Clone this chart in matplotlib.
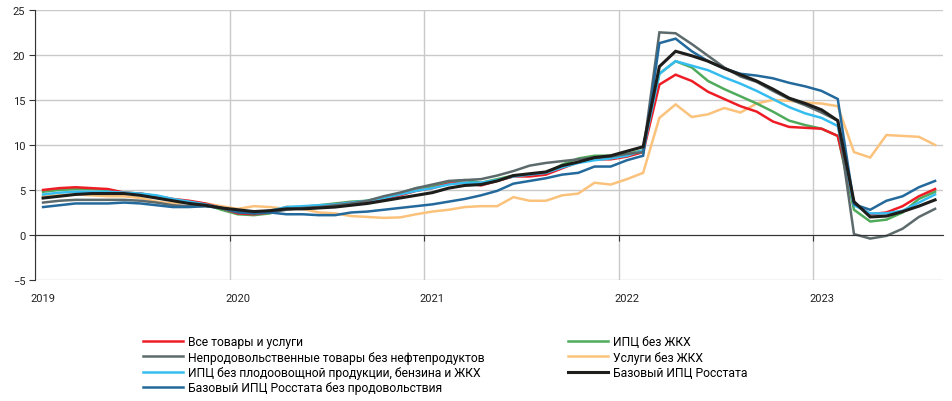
import numpy as np
import matplotlib
matplotlib.use("Agg")
import matplotlib.pyplot as plt

plt.rcParams["font.family"] = ["Roboto", "DejaVu Sans"]

# ---------------------- данные (г/г, %), янв 2019 - авг 2023 ----------------------
years = ["2019", "2020", "2021", "2022", "2023"]

all_goods = [5.0, 5.2, 5.3, 5.2, 5.1, 4.7, 4.6, 4.3, 4.0, 3.8, 3.5, 3.0,
             2.4, 2.3, 2.5, 3.1, 3.0, 3.2, 3.4, 3.6, 3.7, 4.0, 4.4, 4.9,
             5.2, 5.7, 5.8, 5.5, 6.0, 6.5, 6.5, 6.7, 7.4, 8.1, 8.4, 8.4,
             8.7, 9.2, 16.7, 17.8, 17.1, 15.9, 15.1, 14.3, 13.7, 12.6, 12.0, 11.9,
             11.8, 11.0, 3.5, 2.3, 2.5, 3.2, 4.3, 5.1]
cpi_ex_housing = [4.8, 5.0, 5.1, 5.1, 5.0, 4.7, 4.6, 4.3, 3.9, 3.7, 3.4, 2.8,
                  2.3, 2.2, 2.4, 3.1, 3.1, 3.3, 3.5, 3.7, 3.8, 4.2, 4.6, 5.2,
                  5.4, 5.9, 6.1, 5.8, 6.2, 6.6, 6.6, 6.9, 7.8, 8.5, 8.8, 8.8,
                  9.0, 9.4, 17.9, 19.3, 18.6, 17.1, 16.2, 15.4, 14.6, 13.7, 12.7, 12.2,
                  11.8, 11.0, 2.8, 1.5, 1.7, 2.5, 4.0, 4.8]
nonfood_ex_oil = [3.6, 3.8, 3.9, 3.9, 3.9, 3.9, 3.8, 3.6, 3.3, 3.2, 3.2, 3.0,
                  2.6, 2.4, 2.5, 2.8, 3.0, 3.1, 3.3, 3.5, 3.8, 4.3, 4.7, 5.2,
                  5.6, 6.0, 6.1, 6.2, 6.6, 7.1, 7.7, 8.0, 8.2, 8.4, 8.6, 8.7,
                  9.0, 9.2, 22.5, 22.4, 21.2, 19.9, 18.6, 17.6, 17.0, 16.0, 15.1, 14.4,
                  13.6, 12.7, 0.1, -0.4, -0.1, 0.7, 2.0, 2.9]
services_ex_housing = [4.3, 4.4, 4.5, 4.4, 4.3, 4.3, 4.1, 3.7, 3.5, 3.6, 3.5, 3.2,
                       2.9, 3.2, 3.1, 2.9, 2.9, 2.5, 2.4, 2.1, 2.0, 1.9, 1.95, 2.3,
                       2.6, 2.8, 3.1, 3.2, 3.2, 4.2, 3.8, 3.8, 4.4, 4.6, 5.8, 5.6,
                       6.2, 6.9, 13.0, 14.5, 13.1, 13.4, 14.1, 13.6, 14.6, 15.0, 14.9, 14.7,
                       14.6, 14.3, 9.2, 8.6, 11.1, 11.0, 10.9, 10.0]
cpi_ex_veg_fuel = [4.5, 4.7, 4.8, 4.8, 4.8, 4.7, 4.6, 4.4, 4.0, 3.7, 3.4, 3.0,
                   2.7, 2.5, 2.7, 3.1, 3.2, 3.3, 3.4, 3.6, 3.8, 4.1, 4.5, 4.9,
                   5.2, 5.6, 5.8, 5.8, 6.1, 6.5, 6.7, 6.9, 7.5, 8.0, 8.3, 8.5,
                   8.8, 9.4, 17.9, 19.3, 18.8, 18.3, 17.5, 16.8, 16.0, 15.1, 14.2, 13.5,
                   13.0, 12.1, 3.3, 2.4, 2.4, 2.7, 3.6, 4.5]
core_cpi = [4.1, 4.3, 4.5, 4.6, 4.6, 4.6, 4.4, 4.1, 3.8, 3.5, 3.3, 3.0,
            2.8, 2.6, 2.7, 2.9, 2.9, 3.0, 3.1, 3.3, 3.5, 3.8, 4.1, 4.4,
            4.7, 5.2, 5.5, 5.6, 6.0, 6.6, 6.8, 7.0, 7.7, 8.1, 8.6, 8.8,
            9.3, 9.8, 18.7, 20.4, 19.9, 19.3, 18.5, 17.8, 17.1, 16.2, 15.2, 14.6,
            13.9, 12.7, 3.7, 2.0, 2.1, 2.6, 3.2, 3.9]
core_ex_food = [3.1, 3.3, 3.5, 3.5, 3.5, 3.6, 3.5, 3.3, 3.1, 3.1, 3.2, 3.0,
                2.5, 2.4, 2.5, 2.3, 2.3, 2.2, 2.2, 2.5, 2.6, 2.8, 3.0, 3.2,
                3.4, 3.7, 4.0, 4.4, 4.9, 5.7, 6.0, 6.3, 6.7, 6.9, 7.6, 7.6,
                8.3, 8.8, 21.3, 21.8, 20.4, 19.3, 18.5, 17.9, 17.7, 17.4, 16.9, 16.5,
                16.0, 15.1, 3.4, 2.8, 3.8, 4.3, 5.3, 6.0]

series = [
    ("Все товары и услуги", all_goods, "#ee1d25", 1.8),
    ("Непродовольственные товары без нефтепродуктов", nonfood_ex_oil, "#5d6a6c", 1.8),
    ("ИПЦ без плодоовощной продукции, бензина и ЖКХ", cpi_ex_veg_fuel, "#36bdf0", 1.8),
    ("Базовый ИПЦ Росстата без продовольствия", core_ex_food, "#23699b", 1.8),
    ("ИПЦ без ЖКХ", cpi_ex_housing, "#4fab5b", 1.8),
    ("Услуги без ЖКХ", services_ex_housing, "#fbc27c", 1.8),
    ("Базовый ИПЦ Росстата", core_cpi, "#1d1d1b", 2.2),
]

# порядок отрисовки (снизу вверх)
draw_order = [5, 4, 0, 2, 1, 3, 6]

# ---------------------- график ----------------------
fig = plt.figure(figsize=(9.53, 4.02), dpi=100)
ax = fig.add_axes([0.0367, 0.301, 0.953, 0.672])

x = np.arange(len(all_goods)) + 0.5
handles = [None] * len(series)
for k in draw_order:
    name, vals, col, lw = series[k]
    (ln,) = ax.plot(x, vals, color=col, lw=lw, label=name, solid_joinstyle="miter")
    handles[k] = ln

ax.set_xlim(0, len(all_goods))
ax.set_ylim(-5, 25)
ax.set_yticks(np.arange(-5, 26, 5))

year_pos = np.arange(len(years)) * 12
ax.set_xticks(year_pos)
ax.set_xticklabels([])
ax.set_xticks(year_pos + 0.5, minor=True)
ax.set_xticklabels(years, minor=True)

ax.grid(True, which="major", color="#c9c9c9", lw=1)
ax.set_axisbelow(True)

for s in ["top", "right"]:
    ax.spines[s].set_visible(False)
ax.spines["bottom"].set_position(("data", 0))
ax.spines["bottom"].set_color("#333333")
ax.spines["left"].set_color("#333333")

ax.tick_params(axis="y", length=4, color="#333333", labelsize=8, labelcolor="#222222", pad=3)
ax.tick_params(axis="x", which="major", length=4, direction="out", color="#333333")
ax.tick_params(axis="x", which="minor", length=0, labelsize=8, labelcolor="#222222", pad=42)

fig.legend(handles=handles, loc="upper left", bbox_to_anchor=(0.145, 0.175),
           ncol=2, frameon=False, fontsize=8.7, handlelength=3.3, handletextpad=0.41,
           columnspacing=6.95, labelspacing=0.18, borderaxespad=0)

fig.savefig("out.png", dpi=100)
